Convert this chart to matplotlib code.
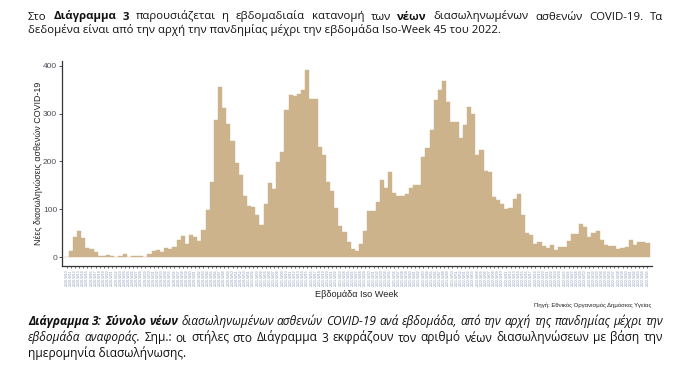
import matplotlib
matplotlib.use("Agg")
import matplotlib.pyplot as plt

W, H = 696, 381

# ---- data: weekly new intubated COVID-19 patients (ISO weeks 2020-W10 .. 2022-W45)
weeks_2020 = list(range(10, 54))
weeks_2021 = list(range(1, 53))
weeks_2022 = list(range(1, 46))
week_labels = ([f"2020-W{w:02d}" for w in weeks_2020] +
               [f"2021-W{w:02d}" for w in weeks_2021] +
               [f"2022-W{w:02d}" for w in weeks_2022])

new_intubations = [
    1, 13, 42, 55, 40, 19, 17, 10, 3, 3, 5, 3, 1, 3, 7, 1, 3, 3, 3, 1,
    7, 12, 15, 11, 19, 18, 22, 36, 44, 28, 47, 42, 34, 57, 99, 157, 287, 356, 312, 278,
    243, 197, 172, 127, 107, 105, 89, 68, 111, 155, 143, 199, 220, 307, 339, 337, 341, 349, 391, 330,
    330, 230, 214, 157, 138, 103, 65, 53, 32, 17, 13, 28, 55, 97, 97, 115, 161, 145, 178, 134,
    128, 128, 132, 145, 151, 151, 209, 228, 266, 328, 349, 368, 324, 282, 282, 249, 276, 314, 299, 214,
    224, 180, 178, 126, 120, 111, 101, 103, 122, 132, 88, 51, 47, 28, 32, 24, 19.5, 26, 15, 22,
    22, 34, 49, 49, 70, 63, 42, 51, 55, 36, 26, 24, 24, 17, 19.5, 22, 36, 26, 32, 32,
    30,
]

y_ticks = [0, 100, 200, 300, 400]
y_label = "Νέες διασωληνώσεις ασθενών COVID-19"
x_label = "Εβδομάδα Iso Week"
source = "Πηγή: Εθνικός Οργανισμός Δημόσιας Υγείας"

BAR = "#CDB38B"
TXT = "#111111"

fig = plt.figure(figsize=(W / 100, H / 100), dpi=100)
fig.patch.set_facecolor("white")

# ---- chart
ax = fig.add_axes([62 / W, 1 - 266 / H, (652 - 62) / W, (266 - 61) / H])
x = list(range(len(new_intubations)))
ax.bar(x, new_intubations, width=1.0, color=BAR, edgecolor=BAR, linewidth=0.3)
ax.set_xlim(-1.1, len(x) - 1 + 1.1)
ax.set_ylim(-18.5, 410)
ax.set_yticks(y_ticks)
ax.set_yticklabels([str(v) for v in y_ticks], fontsize=6, family="Liberation Sans", color="#4D4D5A")
ax.set_xticks(x)
ax.set_xticklabels(week_labels, rotation=90, fontsize=2.6, family="Liberation Sans",
                   color="#8898B6")
ax.tick_params(axis="x", length=1.2, width=0.5, pad=1.2, color="#333333")
ax.tick_params(axis="y", length=2, width=0.6, pad=1.5, color="#333333")
for s in ["top", "right"]:
    ax.spines[s].set_visible(False)
for s in ["left", "bottom"]:
    ax.spines[s].set_color("#333333")
    ax.spines[s].set_linewidth(0.9)

ax.set_ylabel(y_label, fontsize=6.4, family="Liberation Sans", color="#222222")
ax.yaxis.set_label_coords(-0.04, 0.5)
ax.set_xlabel(x_label, fontsize=6.6, family="Liberation Sans", color="#222222")
ax.xaxis.set_label_coords(0.5, -0.137)
ax.xaxis.label.set_va("center")
ax.yaxis.label.set_va("center")

fig.text(651 / W, 1 - 305 / H, source, ha="right", va="center", fontsize=4.3,
         family="Liberation Sans", color="#222222")

# ---- paragraph text
renderer = fig.canvas.get_renderer()
FAM = "Open Sans"


def split_words(segments):
    out = []
    for txt, st in segments:
        for w in txt.split():
            out.append((w, st))
    return out


def ink(text, size, st):
    t = fig.text(0, 0, text, fontsize=size, family=FAM, **st)
    w = t.get_window_extent(renderer).width
    t.remove()
    return w


def adv(text, size, st):
    # advance width: ink("|w|") - ink("||")
    return ink("|" + text + "|", size, st) - ink("||", size, st)


def draw_justified(segments, x0, y_base, size, x1):
    words = split_words(segments)
    widths = [adv(w, size, st) for w, st in words]
    gap = (x1 - x0 - sum(widths)) / (len(words) - 1)
    xx = x0
    for (w, st), wd in zip(words, widths):
        fig.text(xx / W, 1 - y_base / H, w, fontsize=size, family=FAM, va="baseline",
                 ha="left", color=TXT, **st)
        xx += wd + gap


def draw_plain(text, x0, y_base, size, st=None):
    fig.text(x0 / W, 1 - y_base / H, text, fontsize=size, family=FAM, va="baseline",
             ha="left", color=TXT, **(st or {}))


R = {}
B = {"weight": "bold"}
I = {"style": "italic"}
BI = {"weight": "bold", "style": "italic"}

top1 = [("Στο", R), ("Διάγραμμα 3", B), ("παρουσιάζεται η εβδομαδιαία κατανομή των", R),
        ("νέων", B), ("διασωληνωμένων ασθενών COVID-19.  Τα", R)]
top2 = "δεδομένα είναι από την αρχή την πανδημίας μέχρι την εβδομάδα Iso-Week 45 του 2022."

bot1 = [("Διάγραμμα 3: Σύνολο νέων", BI),
        ("διασωληνωμένων ασθενών COVID-19 ανά εβδομάδα, από την αρχή της πανδημίας μέχρι την", I)]
bot2 = [("εβδομάδα αναφοράς.", I),
        ("Σημ.:  οι στήλες στο Διάγραμμα 3 εκφράζουν τον αριθμό νέων διασωληνώσεων με βάση την", R)]
bot3 = "ημερομηνία διασωλήνωσης."

X0, X1 = 28, 663
top_size = 10 * (497 - X0) / adv(top2, 10, {})
bot_size = 10 * (185 - X0) / adv(bot3, 10, {})

draw_justified(top1, X0, 19.5, top_size, X1)
draw_plain(top2, X0, 32.5, top_size)
draw_justified(bot1, X0, 325, bot_size, X1)
draw_justified(bot2, X0, 341.5, bot_size, X1)
draw_plain(bot3, X0, 357.5, bot_size)

fig.savefig("out.png", dpi=100, facecolor="white")
